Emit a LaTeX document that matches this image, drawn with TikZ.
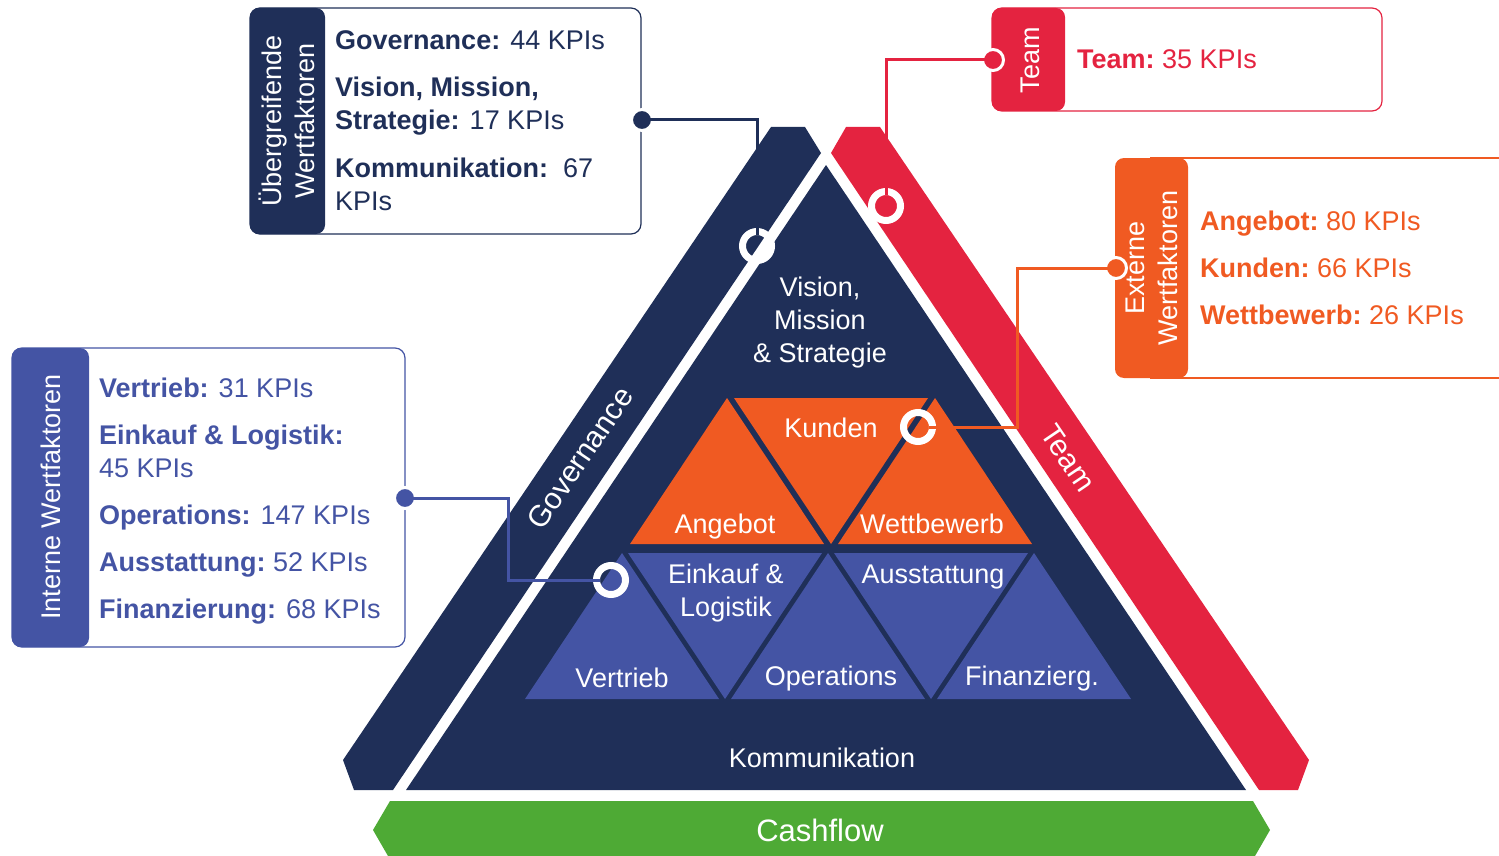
\documentclass[tikz,border=0pt]{standalone}
\usepackage{fontspec}
\setmainfont{Liberation Sans}
\usetikzlibrary{calc}
\definecolor{navy}{RGB}{31,47,88}
\definecolor{tred}{RGB}{228,35,64}
\definecolor{torange}{RGB}{240,90,34}
\definecolor{tblue}{RGB}{68,84,164}
\definecolor{tgreen}{RGB}{78,170,53}
\begin{document}
\begin{tikzpicture}[x=1pt,y=-1pt,
  lbl/.style={text=white, font=\fontsize{27}{33}\selectfont, align=center, inner sep=0pt},
  kpi/.style={anchor=base west, font=\fontsize{27}{33}\selectfont, inner sep=0pt},
  tabtxt/.style={rotate=90, text=white, align=center, font=\fontsize{27}{33}\selectfont, inner sep=0pt},
  conn/.style={line width=3pt},
  dotnode/.style={circle, draw=white, line width=3pt, minimum size=21pt, inner sep=0pt},
  ringnode/.style={circle, draw=white, line width=7pt, minimum size=29pt, inner sep=0pt},
  frame/.style={line width=1.2pt, rounded corners=10pt},
  tabbox/.style={rounded corners=9pt}]
\useasboundingbox (0,0) rectangle (1499,856);

% pyramid bands
\fill[navy] (771,127) -- (805,127) -- (821,153) -- (393,790) -- (354,790) -- (343,760) -- cycle;
\fill[tred] (846,127) -- (880,127) -- (1309,760) -- (1298,790) -- (1259,790) -- (831,153) -- cycle;
\fill[navy] (826,165) -- (1246,790) -- (406,790) -- cycle;

% orange row
\fill[torange] (727,398) -- (824,544) -- (630,544) -- cycle;
\fill[torange] (734,398) -- (928,398) -- (831,544) -- cycle;
\fill[torange] (935,398) -- (1032,544) -- (838,544) -- cycle;
% blue row
\fill[tblue] (622,553) -- (719,699) -- (525,699) -- cycle;
\fill[tblue] (628,553) -- (822,553) -- (725,699) -- cycle;
\fill[tblue] (828,553) -- (925,699) -- (731,699) -- cycle;
\fill[tblue] (834,553) -- (1028,553) -- (931,699) -- cycle;
\fill[tblue] (1034,553) -- (1131,699) -- (937,699) -- cycle;

% cashflow
\fill[tgreen] (373,830) -- (390,801) -- (1253,801) -- (1270,830) -- (1255,856) -- (388,856) -- cycle;
\node[lbl, anchor=base, font=\fontsize{31}{36}\selectfont] (cash) at (820,841) {Cashflow};

% labels inside pyramid
\node[lbl] (vision) at (820,323) {Vision,\\Mission\\\& Strategie};
\node[lbl, anchor=base] (kunden) at (831,437) {Kunden};
\node[lbl, anchor=base] (angebot) at (725,533) {Angebot};
\node[lbl, anchor=base] (wettb) at (932,533) {Wettbewerb};
\node[lbl, anchor=base] (eink1) at (726,583) {Einkauf \&};
\node[lbl, anchor=base] (eink2) at (726,616) {Logistik};
\node[lbl, anchor=base] (ausst) at (933,583) {Ausstattung};
\node[lbl, anchor=base] (vertr) at (622,687) {Vertrieb};
\node[lbl, anchor=base] (oper) at (831,685) {Operations};
\node[lbl, anchor=base] (finz) at (1032,685) {Finanzierg.};
\node[lbl, anchor=base] (komm) at (822,767) {Kommunikation};
\node[lbl, rotate=55.9, font=\fontsize{30}{33}\selectfont] (gov) at (580,458) {Governance};
\node[lbl, rotate=-55.9, font=\fontsize{30}{33}\selectfont] (teamband) at (1068,458) {Team};

% boxes
\draw[frame, navy] (250,8) rectangle (641,234);
\fill[tabbox, navy] (250,8) rectangle (325,234);
\node[tabtxt] (tab1) at (287,121) {Übergreifende\\Wertfaktoren};

\draw[frame, tred] (992,8) rectangle (1382,111);
\fill[tabbox, tred] (992,8) rectangle (1065,111);
\node[tabtxt] (tab2) at (1030,60) {Team};

\draw[torange, line width=1.2pt] (1150,158) -- (1499,158);
\draw[torange, line width=1.2pt] (1150,378) -- (1499,378);
\fill[tabbox, torange] (1115,158) rectangle (1188,378);
\node[tabtxt] (tab3) at (1152,268) {Externe\\Wertfaktoren};

\draw[frame, tblue] (12,348) rectangle (405,647);
\fill[tabbox, tblue] (12,348) rectangle (89,647);
\node[tabtxt] (tab4) at (51,497) {Interne Wertfaktoren};

% box texts
\node[kpi, text=navy] (g1) at (335,50) {\textbf{Governance:} 44 KPIs};
\node[kpi, text=navy] (g2) at (335,97) {\textbf{Vision, Mission,}};
\node[kpi, text=navy] (g3) at (335,130) {\textbf{Strategie:} 17 KPIs};
\node[kpi, text=navy] (g4) at (335,177) {\textbf{Kommunikation:}\ \ 67};
\node[kpi, text=navy] (g5) at (335,210) {KPIs};

\node[kpi, text=tred] (t1) at (1077,69) {\textbf{Team:}\ 35 KPIs};

\node[kpi, text=torange] (e1) at (1200,230) {\textbf{Angebot:}\ 80 KPIs};
\node[kpi, text=torange] (e2) at (1200,277) {\textbf{Kunden:}\ 66 KPIs};
\node[kpi, text=torange] (e3) at (1200,324) {\textbf{Wettbewerb:}\ 26 KPIs};

\node[kpi, text=tblue] (i1) at (99,397) {\textbf{Vertrieb:} 31 KPIs};
\node[kpi, text=tblue] (i2) at (99,444) {\textbf{Einkauf \& Logistik:}};
\node[kpi, text=tblue] (i3) at (99,477) {45 KPIs};
\node[kpi, text=tblue] (i4) at (99,524) {\textbf{Operations:} 147 KPIs};
\node[kpi, text=tblue] (i5) at (99,571) {\textbf{Ausstattung:}\ 52 KPIs};
\node[kpi, text=tblue] (i6) at (99,618) {\textbf{Finanzierung:} 68 KPIs};

% rings
\node[ringnode] (rgov) at (757,246) {};
\node[ringnode] (rteam) at (886,206) {};
\node[ringnode] (rkund) at (918,427) {};
\node[ringnode] (rvert) at (611,580) {};

% dots
\node[dotnode, fill=navy] (dgov) at (642,120) {};
\node[dotnode, fill=tred] (dteam) at (993,60) {};
\node[dotnode, fill=torange] (dext) at (1116,268) {};
\node[dotnode, fill=tblue] (dint) at (405,498) {};

% connectors
\coordinate (cg) at ($(rgov.center)+(0,-11)$);
\coordinate (ct) at ($(rteam.center)+(0,-11)$);
\coordinate (ck) at ($(rkund.center)+(11,0)$);
\coordinate (cv) at ($(rvert.center)+(-11,0)$);
\draw[conn, navy] (dgov.center) -| (cg);
\draw[conn, tred] (dteam.center) -| (ct);
\draw[conn, torange] (dext.center) -- (1017,268) |- (ck);
\draw[conn, tblue] (dint.center) -- (508,498) |- (cv);
\end{tikzpicture}
\end{document}
